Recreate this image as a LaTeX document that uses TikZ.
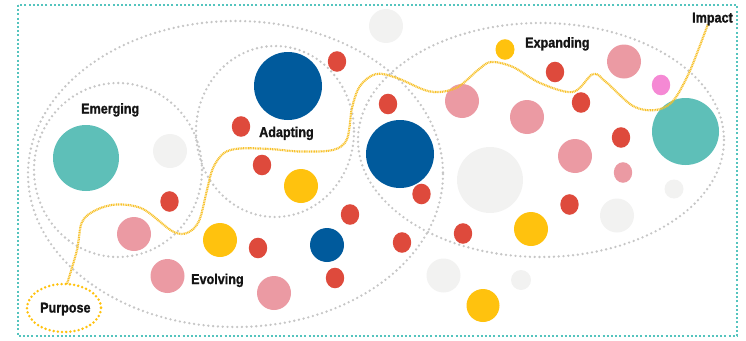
\documentclass[tikz,border=0pt]{standalone}
\usepackage{fontspec}
\setmainfont{Liberation Sans}
\newfontfamily\lblfont{Liberation Sans}[FakeStretch=0.88, BoldFeatures={FakeBold=1.2}]
\definecolor{cteal}{HTML}{5EBFB8}
\definecolor{cblue}{HTML}{005A9C}
\definecolor{cred}{HTML}{DE4A3C}
\definecolor{cpink}{HTML}{EB9AA3}
\definecolor{cyellow}{HTML}{FFC20E}
\definecolor{clight}{HTML}{F2F2F1}
\definecolor{cmag}{HTML}{F589D4}
\definecolor{dotgray}{HTML}{C6C6C6}
\definecolor{frameteal}{HTML}{55C4BE}
\definecolor{pathyellow}{HTML}{F7C12A}
\begin{document}
\begin{tikzpicture}[x=1pt,y=-1pt,
  dotline/.style={draw=dotgray, line width=2.6pt, line cap=round, dash pattern=on 0pt off 4.8pt},
  framedot/.style={draw=frameteal, line width=2.2pt, dash pattern=on 2pt off 2.2pt},
  yellowpath/.style={draw=pathyellow, line width=2.2pt, dash pattern=on 1pt off 0.7pt},
  purposeoval/.style={draw=cyellow, line width=2.8pt, line cap=round, dash pattern=on 0pt off 4.2pt},
  lbl/.style={font=\lblfont\fontsize{14.3}{16}\selectfont\bfseries, text=black!92, inner sep=0pt, anchor=base west}]
\useasboundingbox (0,0) rectangle (746,340);
% frame
\draw[framedot] (18,5) rectangle (737,336);
% group ellipses
\draw[dotline] (235.5,174) ellipse [x radius=207.5, y radius=153];
\draw[dotline] (118,170) ellipse [x radius=84, y radius=87];
\draw[dotline] (275,131.5) ellipse [x radius=79, y radius=85.5];
\draw[dotline] (541,140) ellipse [x radius=183, y radius=117];
% light gray circles
\fill[clight] (386,26) circle (17);
\fill[clight] (170,151) circle (17);
\fill[clight] (490,180) circle (33);
\fill[clight] (674,189) circle (9.5);
\fill[clight] (617,215.5) circle (17);
\fill[clight] (443.5,275.5) circle (17);
\fill[clight] (521,280) circle (10);
% teal
\fill[cteal] (86,158) circle (33);
\fill[cteal] (685.5,131.5) circle (33.5);
% dark blue
\fill[cblue] (288,86) circle (34);
\fill[cblue] (400,154) circle (34);
\fill[cblue] (327,245) circle (17);
% yellow
\fill[cyellow] (301,186) circle (17);
\fill[cyellow] (220,240) circle (17);
\fill[cyellow] (531,229) circle (17);
\fill[cyellow] (483,305.5) circle (16.5);
\fill[cyellow] (505,49.5) ellipse [x radius=9.5, y radius=10.3];
% pink
\fill[cpink] (134,234) circle (17);
\fill[cpink] (167.5,276) circle (17);
\fill[cpink] (274,293) circle (17);
\fill[cpink] (462,101) circle (17);
\fill[cpink] (527,117) circle (17);
\fill[cpink] (624,61.5) circle (17);
\fill[cpink] (575,156) circle (17);
\fill[cpink] (623,172.5) ellipse [x radius=9.2, y radius=10.3];
\fill[cmag] (661,85) ellipse [x radius=9.2, y radius=10.3];
% red
\foreach \p in {(337,61.5),(241,126.5),(262,165),(169.5,201.5),(258,248),(350,214.5),(335,278),
  (388,104),(555,72),(581,102.5),(621,137.5),(421.5,194),(569.5,204.5),(463,233.5),(402,242.5)}
  \fill[cred] \p ellipse [x radius=9.2, y radius=10.3];
% journey path
\draw[yellowpath] plot[smooth, tension=0.55] coordinates {
  (67,284) (77,250) (82,222) (96,210) (117,204.5) (143,209) (172,231) (187,233) (199,221)
  (207,190) (213,168) (224,153) (240,148.5) (270,149) (300,151.5) (333,150) (347,139)
  (352,108) (360,86) (376,74) (397,78) (430,91.5) (456,88) (478,70) (491,62) (513,67)
  (540,83) (573,92) (593,74) (606,82) (633,106) (656,110) (673,101) (688,75) (699,48) (708,24)};
\draw[purposeoval] (64,308) ellipse [x radius=37, y radius=24];
% labels
\node[lbl] (emerging) at (81,113.5) {Emerging};
\node[lbl] (adapting) at (259,137) {Adapting};
\node[lbl] (expanding) at (525,47.5) {Expanding};
\node[lbl] (impact) at (692,22.5) {Impact};
\node[lbl] (evolving) at (191,284) {Evolving};
\node[lbl] (purpose) at (40,312.5) {Purpose};
\end{tikzpicture}
\end{document}
